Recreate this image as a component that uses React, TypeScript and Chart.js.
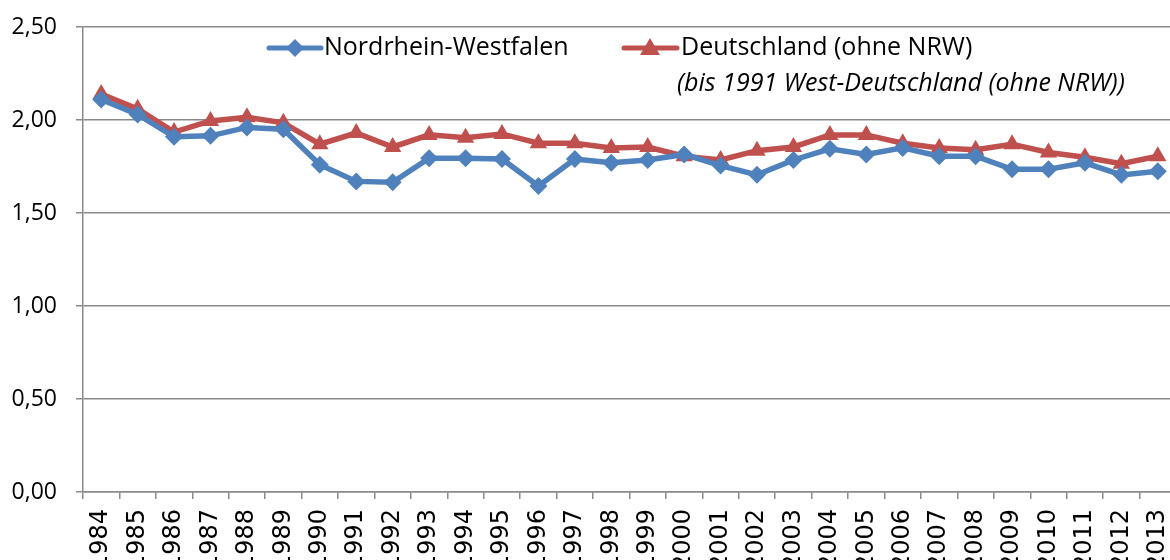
import React, { useEffect, useRef } from "react";
import { Chart, registerables } from "chart.js";

Chart.register(...registerables);

const years = [
  "1984", "1985", "1986", "1987", "1988", "1989", "1990", "1991", "1992", "1993",
  "1994", "1995", "1996", "1997", "1998", "1999", "2000", "2001", "2002", "2003",
  "2004", "2005", "2006", "2007", "2008", "2009", "2010", "2011", "2012", "2013",
];

const nrwValues = [
  2.11, 2.03, 1.91, 1.915, 1.96, 1.95, 1.76, 1.67, 1.665, 1.795,
  1.795, 1.79, 1.645, 1.79, 1.77, 1.785, 1.815, 1.755, 1.705, 1.785,
  1.845, 1.815, 1.85, 1.805, 1.805, 1.735, 1.735, 1.77, 1.705, 1.725,
];

const deValues = [
  2.14, 2.06, 1.935, 1.995, 2.015, 1.985, 1.87, 1.93, 1.855, 1.92,
  1.905, 1.925, 1.875, 1.875, 1.85, 1.855, 1.805, 1.785, 1.835, 1.855,
  1.92, 1.92, 1.875, 1.85, 1.84, 1.87, 1.825, 1.8, 1.765, 1.805,
];

const nrwLabel = "Nordrhein-Westfalen";
const deLabel = "Deutschland (ohne NRW)";
const deNote = "(bis 1991 West-Deutschland (ohne NRW))";

const BLUE = "#4F81BD";
const RED = "#C0504D";
const GRID = "#8a8a8a";
const FONT = "'Open Sans', 'Liberation Sans', sans-serif";

const legendPlugin = {
  id: "customLegend",
  afterDraw(chart: any) {
    const ctx = chart.ctx;
    ctx.save();
    const y1 = 48;
    // NRW entry
    ctx.strokeStyle = BLUE;
    ctx.lineWidth = 5;
    ctx.lineCap = "round";
    ctx.beginPath();
    ctx.moveTo(269, y1);
    ctx.lineTo(321, y1);
    ctx.stroke();
    ctx.fillStyle = BLUE;
    ctx.beginPath();
    ctx.moveTo(295, y1 - 9);
    ctx.lineTo(304, y1);
    ctx.lineTo(295, y1 + 9);
    ctx.lineTo(286, y1);
    ctx.closePath();
    ctx.fill();
    ctx.fillStyle = "#000";
    ctx.font = `25px ${FONT}`;
    ctx.textBaseline = "middle";
    ctx.textAlign = "left";
    ctx.fillText(nrwLabel, 324, y1);

    // DE entry
    ctx.strokeStyle = RED;
    ctx.beginPath();
    ctx.moveTo(624, y1);
    ctx.lineTo(677, y1);
    ctx.stroke();
    ctx.fillStyle = RED;
    ctx.beginPath();
    ctx.moveTo(650, y1 - 10);
    ctx.lineTo(660, y1 + 7);
    ctx.lineTo(640, y1 + 7);
    ctx.closePath();
    ctx.fill();
    ctx.fillStyle = "#000";
    ctx.fillText(deLabel, 681, y1);
    ctx.font = `italic 25px ${FONT}`;
    ctx.fillText(deNote, 677, 84);
    ctx.restore();
  },
};

export default function App() {
  const ref = useRef<HTMLCanvasElement | null>(null);

  useEffect(() => {
    if (!ref.current) return;
    const chart = new Chart(ref.current, {
      type: "line",
      data: {
        labels: years,
        datasets: [
          {
            label: nrwLabel,
            data: nrwValues,
            borderColor: BLUE,
            backgroundColor: BLUE,
            borderWidth: 5.5,
            pointStyle: "rectRot",
            pointRadius: 9,
            pointBorderWidth: 0,
            tension: 0,
          },
          {
            label: deLabel,
            data: deValues,
            borderColor: RED,
            backgroundColor: RED,
            borderWidth: 5.5,
            pointStyle: "triangle",
            pointRadius: 10,
            pointBorderWidth: 0,
            tension: 0,
          },
        ],
      },
      options: {
        responsive: false,
        animation: false,
        layout: { padding: { top: 27, right: 0, left: 0, bottom: 0 } },
        plugins: {
          legend: { display: false },
          tooltip: { enabled: false },
        },
        scales: {
          x: {
            offset: true,
            grid: {
              offset: true,
              drawOnChartArea: false,
              drawTicks: true,
              tickLength: 7,
              color: GRID,
              lineWidth: 1.5,
            },
            border: { color: GRID, width: 1.5 },
            ticks: {
              minRotation: 90,
              maxRotation: 90,
              autoSkip: false,
              padding: 10,
              color: "#000",
              font: { family: "'DejaVu Sans', sans-serif", size: 24 },
            },
            afterFit(scale: any) {
              scale.height = 68;
              scale.paddingLeft = 0;
              scale.paddingRight = 0;
            },
          },
          y: {
            min: 0,
            max: 2.5,
            grid: {
              color: GRID,
              lineWidth: 1.5,
              tickLength: 7,
            },
            border: { color: GRID, width: 1.5 },
            ticks: {
              stepSize: 0.5,
              padding: 19,
              color: "#000",
              font: { family: FONT, size: 23 },
              callback: (v: any) => Number(v).toFixed(2).replace(".", ","),
            },
            afterFit(scale: any) {
              scale.width = 83;
              scale.paddingTop = 0;
              scale.paddingBottom = 0;
            },
          },
        },
      },
      plugins: [legendPlugin],
    });
    return () => chart.destroy();
  }, []);

  return (
    <div style={{ position: "absolute", left: 0, top: 0, width: 1170, height: 560, background: "#fff", overflow: "hidden" }}>
      <canvas ref={ref} width={1186} height={560} style={{ display: "block" }} />
    </div>
  );
}
